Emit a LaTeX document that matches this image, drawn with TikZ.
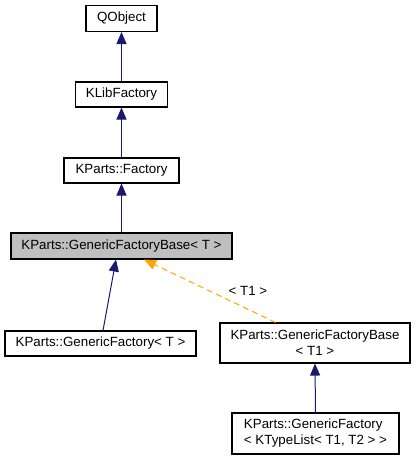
\documentclass[tikz,border=0pt]{standalone}
\usepackage{fontspec}
\setmainfont{Liberation Sans}
\usetikzlibrary{arrows.meta,calc}
\definecolor{edgeblue}{HTML}{191970}
\definecolor{edgeorange}{HTML}{FFA500}
\definecolor{hlgray}{HTML}{BFBFBF}
\begin{document}
\begin{tikzpicture}[x=0.75pt,y=-0.75pt,
  cls/.style={draw=black,line width=0.8pt,fill=white,inner sep=0pt,
    font=\fontsize{10pt}{12pt}\selectfont},
  inh/.style={edgeblue,line width=0.75pt,
    -{Triangle[length=9pt,width=7.5pt,fill=edgeblue]}},
  tmpl/.style={edgeorange,line width=0.75pt,dash pattern=on 4.5pt off 3pt,
    -{Triangle[length=9pt,width=7.5pt,fill=edgeorange]}},
  lbl/.style={font=\fontsize{10pt}{12pt}\selectfont,inner sep=0pt}]
\useasboundingbox (0,0) rectangle (415,460);
\node[cls,minimum width=71*0.75pt,minimum height=26*0.75pt] (qobj) at (121.5,18.5) {QObject};
\node[cls,minimum width=92*0.75pt,minimum height=25*0.75pt] (klib) at (121.5,94.5) {KLibFactory};
\node[cls,minimum width=115*0.75pt,minimum height=25*0.75pt] (kpf) at (121.5,170.5) {KParts::Factory};
\node[cls,fill=hlgray,minimum width=221*0.75pt,minimum height=26*0.75pt] (gfbT) at (121.5,246) {KParts::GenericFactoryBase< T >};
\node[cls,minimum width=191*0.75pt,minimum height=25*0.75pt] (gfT) at (100.5,343.5) {KParts::GenericFactory< T >};
\node[cls,align=center,minimum width=190*0.75pt,minimum height=40*0.75pt] (gfbT1) at (315,343) {KParts::GenericFactoryBase\\< T1 >};
\node[cls,align=left,minimum width=167*0.75pt,minimum height=41*0.75pt] (gfKT) at (315.5,433.5) {KParts::GenericFactory\\< KTypeList< T1, T2 > >};
\draw[inh] (klib.north) -- (qobj.south);
\draw[inh] (kpf.north) -- (klib.south);
\draw[inh] (gfbT.north) -- (kpf.south);
\draw[inh] ($(gfT.north)+(2.5,0)$) -- ($(gfbT.south)+(-5.5,0)$);
\draw[tmpl] ($(gfbT1.north west)+(56,0)$) -- ($(gfbT.south)+(22.5,0)$);
\node[lbl] (t1lbl) at (248,291) {< T1 >};
\draw[inh] (gfKT.north) -- (gfbT1.south);
\end{tikzpicture}
\end{document}
